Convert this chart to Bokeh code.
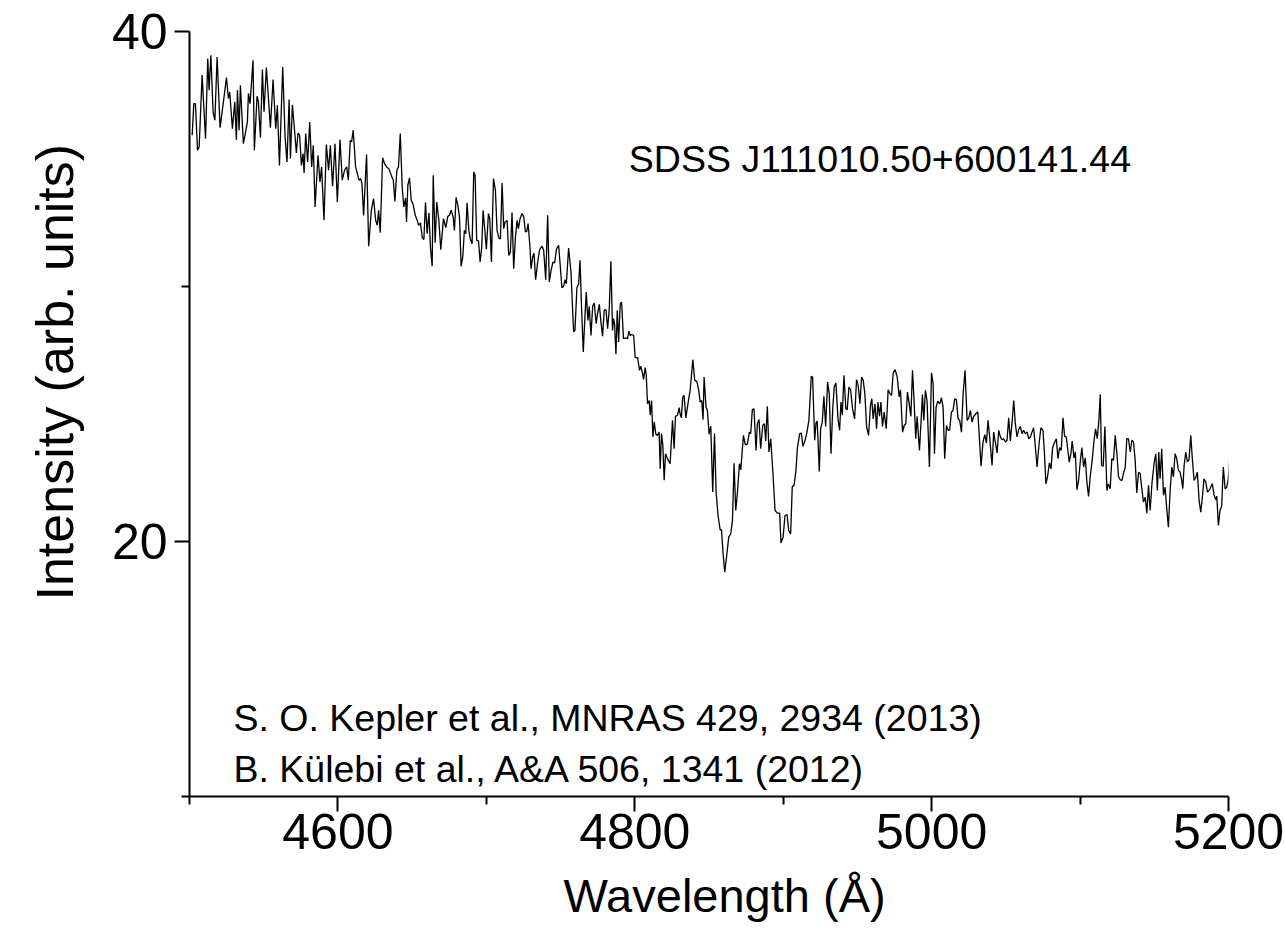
from bokeh.plotting import figure
from bokeh.models import FixedTicker, Label, Title
from bokeh.embed import file_html
from bokeh.resources import INLINE

# Spectrum of SDSS J111010.50+600141.44
wavelength = [
    4501.8, 4502.9, 4504.0, 4505.4, 4506.5, 4508.5, 4510.8, 4512.3, 4513.2, 4514.4,
    4515.9, 4517.1, 4518.6, 4520.6, 4522.7, 4524.9, 4526.2, 4527.1, 4528.9, 4530.5,
    4531.6, 4532.3, 4533.4, 4534.3, 4536.3, 4539.0, 4539.7, 4540.8, 4542.8, 4543.7,
    4545.5, 4546.4, 4547.8, 4549.1, 4550.2, 4551.8, 4554.5, 4556.3, 4558.1, 4559.2,
    4560.6, 4562.8, 4564.4, 4565.7, 4567.1, 4568.0, 4569.3, 4570.4, 4572.0, 4573.1,
    4574.2, 4575.4, 4576.5, 4577.2, 4578.3, 4579.6, 4581.0, 4582.3, 4583.4, 4584.6,
    4586.6, 4587.9, 4589.0, 4590.6, 4592.2, 4593.7, 4594.9, 4596.4, 4598.0, 4599.6,
    4601.4, 4602.9, 4604.5, 4605.9, 4607.0, 4608.3, 4609.2, 4610.3, 4611.9, 4614.2,
    4615.3, 4616.2, 4617.3, 4619.3, 4620.7, 4622.5, 4624.0, 4625.4, 4626.5, 4627.4,
    4628.5, 4630.1, 4631.4, 4632.8, 4634.3, 4635.9, 4637.3, 4638.4, 4639.7, 4640.8,
    4642.0, 4643.3, 4644.4, 4645.6, 4646.2, 4647.1, 4648.2, 4649.4, 4650.5, 4652.1,
    4653.4, 4654.3, 4655.6, 4656.8, 4657.9, 4659.0, 4660.1, 4661.3, 4662.4, 4663.5,
    4664.2, 4665.5, 4666.6, 4668.0, 4669.3, 4671.1, 4672.7, 4674.0, 4675.1, 4676.3,
    4677.6, 4678.5, 4679.6, 4680.8, 4681.9, 4683.0, 4684.1, 4685.2, 4686.1, 4687.0,
    4688.2, 4689.3, 4690.4, 4691.5, 4692.4, 4693.5, 4694.7, 4695.8, 4696.9, 4697.8,
    4698.7, 4700.0, 4701.4, 4702.3, 4703.4, 4704.8, 4706.1, 4707.2, 4708.6, 4709.5,
    4710.6, 4711.7, 4712.6, 4714.0, 4715.1, 4716.2, 4717.3, 4718.4, 4719.6, 4720.7,
    4721.6, 4722.7, 4724.0, 4725.2, 4726.3, 4727.2, 4728.1, 4729.4, 4730.1, 4731.2,
    4732.1, 4733.2, 4734.6, 4735.9, 4737.5, 4738.6, 4740.0, 4741.3, 4742.4, 4743.6,
    4744.9, 4746.0, 4747.2, 4748.7, 4750.9, 4752.1, 4753.0, 4753.9, 4755.4, 4757.0,
    4758.8, 4759.7, 4761.0, 4762.2, 4763.1, 4764.2, 4765.3, 4766.4, 4767.3, 4768.4,
    4769.3, 4770.5, 4771.6, 4772.7, 4774.0, 4774.9, 4776.1, 4777.2, 4778.3, 4779.4,
    4780.6, 4781.7, 4782.8, 4783.9, 4785.0, 4785.7, 4786.4, 4787.3, 4788.2, 4789.1,
    4790.2, 4791.1, 4792.4, 4793.8, 4795.1, 4796.0, 4796.9, 4798.0, 4799.2, 4800.3,
    4801.9, 4803.2, 4804.1, 4805.0, 4805.9, 4807.0, 4807.7, 4808.6, 4809.7, 4810.4,
    4811.3, 4812.2, 4813.1, 4814.2, 4815.3, 4816.4, 4817.1, 4818.0, 4818.9, 4819.8,
    4820.7, 4822.0, 4823.8, 4825.4, 4826.5, 4827.4, 4828.8, 4829.9, 4830.5, 4831.4,
    4832.3, 4833.2, 4834.4, 4836.0, 4837.3, 4839.1, 4840.4, 4841.8, 4843.1, 4844.0,
    4845.1, 4846.0, 4846.7, 4848.0, 4848.9, 4850.1, 4851.2, 4852.5, 4853.7, 4854.8,
    4856.1, 4857.5, 4858.4, 4859.5, 4860.6, 4862.0, 4863.3, 4864.6, 4865.8, 4866.9,
    4868.0, 4869.1, 4870.5, 4871.4, 4873.2, 4874.5, 4875.9, 4877.2, 4878.1, 4879.2,
    4880.3, 4881.7, 4882.6, 4883.7, 4884.8, 4886.2, 4887.3, 4888.2, 4889.3, 4890.4,
    4891.6, 4893.1, 4894.5, 4896.0, 4897.6, 4898.5, 4899.9, 4901.2, 4902.6, 4903.7,
    4905.0, 4906.1, 4907.3, 4908.6, 4909.5, 4911.1, 4912.2, 4913.3, 4914.4, 4915.8,
    4917.3, 4918.9, 4919.8, 4921.2, 4922.1, 4922.9, 4924.3, 4925.2, 4926.3, 4927.4,
    4928.6, 4929.9, 4931.0, 4932.2, 4933.3, 4934.4, 4935.5, 4936.9, 4938.0, 4938.9,
    4939.8, 4940.9, 4942.2, 4943.1, 4944.3, 4945.4, 4946.7, 4948.1, 4949.4, 4950.5,
    4951.7, 4952.8, 4953.9, 4955.0, 4956.2, 4957.5, 4958.8, 4959.7, 4960.6, 4961.8,
    4962.9, 4963.8, 4964.9, 4965.8, 4966.9, 4968.0, 4969.4, 4970.7, 4971.9, 4973.0,
    4974.1, 4975.4, 4976.8, 4978.1, 4979.0, 4980.4, 4981.5, 4982.6, 4983.7, 4984.9,
    4986.0, 4987.1, 4988.2, 4989.3, 4990.2, 4991.8, 4992.9, 4993.8, 4994.7, 4995.8,
    4996.9, 4998.5, 4999.9, 5001.0, 5001.9, 5003.0, 5004.1, 5005.5, 5006.6, 5007.7,
    5008.8, 5010.0, 5011.1, 5012.2, 5013.3, 5014.4, 5015.6, 5016.7, 5017.8, 5018.9,
    5020.1, 5021.2, 5022.5, 5023.9, 5025.0, 5026.1, 5027.2, 5028.4, 5029.7, 5031.1,
    5032.4, 5033.3, 5034.6, 5035.8, 5036.9, 5038.0, 5039.1, 5040.7, 5041.8, 5042.9,
    5044.1, 5045.2, 5046.3, 5047.4, 5048.5, 5049.7, 5050.8, 5051.9, 5053.0, 5054.2,
    5055.3, 5056.4, 5057.5, 5058.6, 5059.8, 5060.9, 5062.0, 5063.1, 5064.3, 5065.4,
    5066.5, 5067.6, 5068.7, 5070.1, 5071.0, 5072.5, 5073.6, 5075.0, 5075.9, 5077.0,
    5078.1, 5079.3, 5080.4, 5081.5, 5082.6, 5084.0, 5085.1, 5086.2, 5087.3, 5088.5,
    5089.6, 5090.7, 5091.8, 5092.7, 5093.8, 5094.7, 5095.9, 5096.8, 5097.9, 5099.0,
    5100.1, 5101.2, 5102.4, 5103.5, 5104.6, 5105.7, 5106.8, 5108.2, 5109.3, 5110.4,
    5111.6, 5112.7, 5113.6, 5114.5, 5115.6, 5116.7, 5118.1, 5119.0, 5120.3, 5121.4,
    5122.5, 5123.7, 5124.8, 5125.9, 5127.0, 5128.2, 5129.3, 5130.4, 5131.5, 5132.6,
    5133.8, 5134.9, 5136.0, 5137.1, 5138.2, 5139.4, 5140.5, 5141.6, 5142.7, 5143.9,
    5145.0, 5146.1, 5147.2, 5148.5, 5149.9, 5151.0, 5152.1, 5153.0, 5153.9, 5155.0,
    5156.2, 5157.3, 5158.4, 5159.5, 5160.7, 5161.8, 5162.9, 5164.0, 5165.1, 5166.3,
    5167.4, 5168.5, 5169.2, 5170.1, 5171.2, 5172.3, 5173.4, 5174.6, 5175.7, 5176.8,
    5177.9, 5179.0, 5180.2, 5181.3, 5182.4, 5183.5, 5184.7, 5185.8, 5186.9, 5188.0,
    5189.1, 5190.3, 5191.4, 5192.1, 5193.2, 5194.3, 5195.4, 5196.5, 5197.7, 5198.8,
    5199.9, 5201.0,
]

intensity = [
    35.93, 37.17, 37.17, 35.34, 35.47, 38.29, 35.80, 38.94, 37.70, 39.07,
    36.85, 36.52, 39.00, 36.23, 37.17, 38.19, 37.37, 37.63, 36.19, 37.24,
    35.76, 37.70, 36.13, 37.89, 35.60, 36.45, 37.57, 37.17, 38.87, 35.34,
    37.46, 37.24, 35.83, 38.51, 36.85, 38.59, 36.23, 38.12, 36.19, 37.11,
    34.75, 38.61, 35.87, 34.88, 37.33, 35.02, 37.13, 36.39, 35.24, 36.02,
    35.93, 34.75, 35.21, 34.45, 36.00, 34.88, 36.45, 34.69, 35.54, 33.12,
    35.15, 34.10, 34.69, 32.60, 35.57, 34.56, 35.54, 33.93, 35.60, 33.31,
    35.76, 34.17, 34.56, 34.69, 34.17, 35.73, 35.67, 36.13, 34.69, 34.17,
    34.23, 34.03, 32.79, 35.18, 31.58, 32.99, 33.45, 32.60, 32.40, 32.99,
    32.11, 35.05, 34.82, 34.69, 34.62, 34.36, 34.17, 33.34, 34.56, 34.69,
    36.00, 33.90, 33.12, 33.47, 32.53, 33.97, 34.26, 33.38, 33.25, 32.79,
    32.60, 32.40, 32.49, 31.92, 31.84, 33.29, 32.07, 32.88, 31.48, 30.80,
    34.36, 31.72, 33.31, 32.60, 31.44, 32.66, 32.31, 32.75, 32.79, 32.99,
    32.73, 32.20, 33.49, 33.18, 32.73, 30.79, 31.16, 32.20, 32.07, 33.28,
    32.20, 31.84, 31.68, 34.49, 34.36, 31.81, 31.79, 30.96, 31.55, 32.99,
    32.40, 31.46, 32.86, 32.66, 30.96, 34.23, 33.77, 32.20, 31.88, 31.88,
    34.06, 32.27, 32.53, 32.59, 31.22, 31.35, 32.90, 30.70, 31.94, 32.59,
    32.27, 32.66, 32.86, 32.73, 32.14, 32.16, 32.47, 31.55, 30.70, 31.16,
    31.31, 30.27, 30.96, 31.45, 31.58, 31.42, 30.27, 32.79, 30.18, 30.63,
    30.96, 30.92, 31.46, 31.62, 29.95, 30.01, 30.27, 30.11, 31.51, 30.57,
    28.22, 28.28, 29.95, 30.11, 31.03, 29.07, 27.43, 28.80, 29.78, 28.67,
    29.22, 28.08, 29.22, 29.35, 28.54, 28.93, 29.30, 28.61, 28.05, 29.07,
    29.09, 28.35, 29.13, 30.99, 28.28, 28.74, 28.52, 27.34, 29.07, 27.82,
    29.33, 29.39, 27.95, 27.99, 27.95, 28.25, 28.08, 28.12, 28.08, 27.21,
    27.21, 26.71, 26.87, 26.65, 26.36, 26.82, 26.55, 25.40, 25.53, 24.95,
    25.53, 24.10, 24.69, 24.20, 24.16, 24.29, 22.85, 24.23, 23.77, 22.40,
    23.44, 23.25, 23.05, 24.75, 23.64, 24.91, 24.95, 25.25, 25.01, 24.85,
    25.66, 25.73, 24.85, 25.47, 25.93, 27.13, 26.32, 26.28, 25.93, 25.47,
    25.53, 24.78, 26.45, 25.27, 25.14, 24.20, 24.52, 21.94, 24.23, 21.94,
    21.02, 20.46, 20.46, 19.52, 18.80, 19.49, 20.17, 20.30, 20.83, 23.07,
    21.22, 21.87, 23.05, 22.81, 24.16, 23.79, 23.83, 24.29, 24.23, 25.17,
    25.20, 23.57, 24.62, 24.78, 23.64, 24.55, 24.62, 23.94, 25.30, 23.51,
    24.03, 22.66, 21.22, 21.11, 21.11, 19.94, 20.17, 21.02, 21.06, 20.43,
    20.30, 22.16, 22.20, 22.79, 23.64, 24.23, 24.25, 23.73, 23.90, 24.23,
    24.75, 26.48, 26.45, 23.97, 24.65, 24.72, 22.75, 24.42, 24.68, 25.69,
    24.51, 26.25, 25.80, 23.44, 25.14, 26.08, 26.21, 24.81, 24.36, 25.47,
    24.95, 26.52, 25.21, 25.17, 26.06, 25.95, 25.21, 24.81, 26.35, 26.12,
    25.40, 26.45, 26.32, 25.80, 24.49, 24.16, 25.34, 25.60, 24.81, 25.40,
    24.42, 25.47, 24.91, 25.47, 24.51, 25.08, 24.42, 25.95, 25.80, 25.73,
    26.61, 26.74, 26.45, 25.67, 25.95, 24.29, 24.55, 24.62, 25.86, 25.40,
    24.91, 26.71, 25.47, 24.03, 24.91, 23.57, 24.75, 25.76, 24.75, 25.93,
    25.53, 22.92, 26.61, 26.19, 23.44, 25.27, 25.50, 25.40, 25.64, 25.27,
    23.25, 24.55, 24.36, 24.38, 25.08, 25.14, 25.60, 25.56, 24.81, 24.75,
    24.29, 25.80, 26.71, 24.75, 24.85, 25.14, 24.68, 24.91, 25.01, 25.08,
    23.83, 22.95, 23.90, 24.19, 23.86, 24.75, 24.10, 22.98, 24.29, 23.90,
    23.47, 24.36, 24.10, 23.99, 24.03, 23.90, 23.97, 24.85, 23.94, 24.68,
    25.53, 24.62, 24.10, 24.38, 24.51, 24.23, 24.36, 24.23, 24.29, 24.03,
    24.10, 24.29, 24.46, 23.57, 22.92, 23.90, 24.46, 24.36, 23.57, 22.26,
    22.55, 23.08, 22.85, 23.68, 23.86, 24.03, 23.25, 23.68, 23.57, 24.85,
    24.12, 24.10, 23.57, 23.11, 23.44, 23.94, 23.28, 23.51, 22.03, 22.40,
    23.11, 23.68, 22.92, 23.28, 22.33, 21.77, 22.53, 23.21, 23.90, 24.42,
    24.03, 24.78, 25.77, 22.98, 22.95, 24.51, 22.00, 22.26, 22.07, 23.25,
    23.18, 24.16, 23.44, 22.55, 22.42, 22.40, 22.68, 22.89, 24.03, 24.03,
    23.51, 23.97, 23.90, 23.21, 21.90, 22.72, 22.66, 22.07, 21.55, 21.74,
    21.11, 22.20, 21.22, 22.33, 23.08, 23.44, 22.00, 23.51, 22.46, 23.64,
    21.81, 22.13, 21.28, 20.56, 22.00, 22.92, 22.53, 23.44, 23.25, 22.79,
    22.72, 22.40, 22.07, 22.98, 23.51, 23.12, 23.21, 24.16, 23.18, 22.40,
    22.50, 22.72, 21.61, 21.15, 21.74, 22.46, 22.33, 21.94, 22.00, 22.13,
    22.27, 21.81, 21.64, 21.78, 20.63, 21.22, 21.38, 22.92, 22.07, 22.13,
    22.46, 23.44,
]

x_major = [4600, 4800, 5000, 5200]
x_minor = [4500, 4700, 4900, 5100]
y_major = [20, 40]
y_minor = [10, 30]

FONT = "Liberation Sans"

p = figure(width=1285, height=939, x_range=(4500, 5200), y_range=(10, 40),
           output_backend="svg", toolbar_location=None,
           min_border_left=188, min_border_right=57,
           min_border_top=31, min_border_bottom=143)
p.outline_line_color = None
p.grid.visible = False
p.background_fill_color = "white"
p.border_fill_color = "white"

p.line(wavelength, intensity, line_color="black", line_width=1.3)

for ax in (p.xaxis[0], p.yaxis[0]):
    ax.axis_line_width = 2
    ax.axis_line_color = "black"
    ax.major_tick_line_width = 2
    ax.minor_tick_line_width = 2
    ax.major_tick_line_color = "black"
    ax.minor_tick_line_color = "black"
    ax.major_tick_in = 0
    ax.major_tick_out = 15
    ax.minor_tick_in = 0
    ax.minor_tick_out = 8
    ax.major_label_text_font = FONT
    ax.major_label_text_font_size = "50px"
    ax.major_label_text_color = "black"

p.xaxis.ticker = FixedTicker(ticks=x_major, minor_ticks=x_minor)
p.yaxis.ticker = FixedTicker(ticks=y_major, minor_ticks=y_minor)
p.xaxis.major_label_standoff = 2
p.yaxis.major_label_standoff = 7

# x axis title
xtitle = Title(text="Wavelength (Å)", align="left", offset=374, vertical_align="bottom",
               standoff=30, text_font=FONT, text_font_size="47px",
               text_font_style="normal", text_color="black")
p.add_layout(xtitle, "below")

# y axis title, placed as in the reference
ytitle = Title(text="Intensity (arb. units)", align="left", offset=196,
               vertical_align="middle", standoff=48,
               text_font=FONT, text_font_size="52px", text_font_style="normal",
               text_color="black")
p.add_layout(ytitle, "left")

p.add_layout(Label(x=4796, y=35.0, text="SDSS J111010.50+600141.44",
                   text_font=FONT, text_font_size="37.5px", text_color="black",
                   text_baseline="alphabetic"))
p.add_layout(Label(x=4529.6, y=13.07, text="S. O. Kepler et al., MNRAS 429, 2934 (2013)",
                   text_font=FONT, text_font_size="37.5px", text_color="black",
                   text_baseline="alphabetic"))
p.add_layout(Label(x=4529.6, y=11.09, text="B. Külebi et al., A&A 506, 1341 (2012)",
                   text_font=FONT, text_font_size="37.5px", text_color="black",
                   text_baseline="alphabetic"))

open("out.html", "w").write(file_html(p, INLINE))
